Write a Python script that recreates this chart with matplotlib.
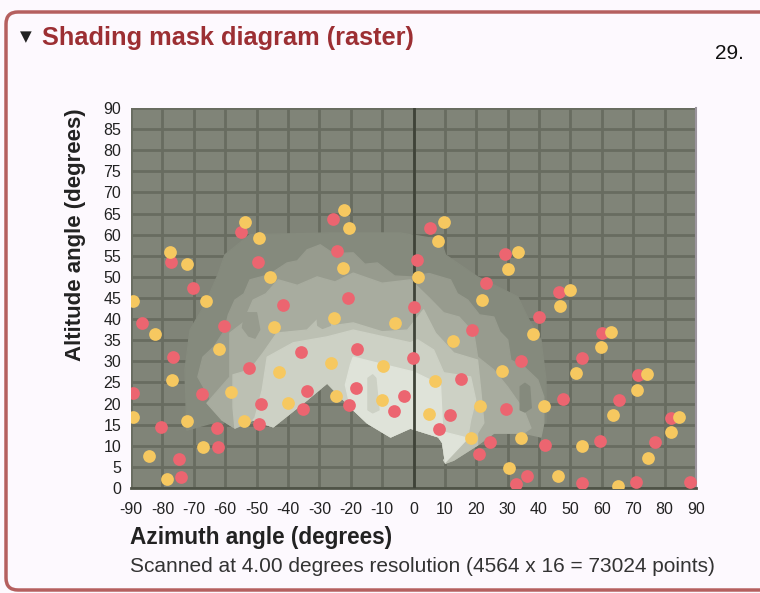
import matplotlib
matplotlib.use("Agg")
import matplotlib.pyplot as plt
from matplotlib.patches import FancyBboxPatch, Polygon
from matplotlib.transforms import IdentityTransform

plt.rcParams["font.family"] = ["Liberation Sans", "DejaVu Sans"]

W, H = 760, 593

# sun positions (azimuth, altitude)
red_az = [-89.5, -86.6, -80.5, -77.3, -76.7, -74.8, -74.1, -70.3, -67.4, -62.6, -62.3, -60.4, -55.0, -49.5, -52.4,
          -48.6, -49.2, -41.5, -35.8, -35.1, -33.9, -25.6, -24.3, -20.8, -17.9, -18.2, -20.4, -6.1, -2.9, -0.3,
          0.3, 1.0, 5.1, 8.0, 11.5, 15.0, 18.5, 20.8, 24.3, 23.0, 29.1, 29.4, 34.2, 36.1, 32.6,
          39.9, 41.9, 46.3, 47.6, 53.7, 53.7, 59.4, 60.1, 65.5, 70.9, 71.6, 77.0, 82.1, 88.2]
red_alt = [22.5, 39.1, 14.5, 53.6, 31.0, 6.9, 2.6, 47.4, 22.3, 14.2, 9.7, 38.4, 60.7, 53.6, 28.4,
           19.9, 15.2, 43.4, 32.2, 18.7, 23.0, 63.7, 56.2, 45.0, 32.9, 23.7, 19.7, 18.2, 21.8, 30.8,
           42.9, 54.0, 61.6, 14.0, 17.3, 25.8, 37.4, 8.1, 10.9, 48.6, 55.5, 18.7, 30.1, 2.8, 0.9,
           40.5, 10.2, 46.4, 21.1, 30.8, 1.2, 11.1, 36.7, 20.9, 1.4, 26.8, 10.9, 16.6, 1.4]

yellow_az = [-89.5, -82.4, -77.6, -72.2, -66.1, -62.0, -77.0, -89.5, -84.3, -78.6, -72.2, -67.1, -58.1, -54.0, -53.7,
             -49.2, -45.7, -44.4, -42.8, -39.9, -26.2, -25.2, -24.6, -22.4, -22.0, -20.4, -9.6, -9.9, -5.8, 1.3,
             4.8, 6.7, 7.7, 9.6, 12.5, 18.2, 21.1, 21.7, 28.1, 30.0, 30.4, 33.2, 34.2, 38.0, 41.5,
             46.0, 46.6, 49.8, 51.8, 53.7, 59.7, 62.9, 63.6, 65.2, 71.2, 74.4, 74.8, 82.1, 84.7]
yellow_alt = [44.3, 36.5, 55.9, 53.1, 44.3, 32.9, 25.6, 16.8, 7.6, 2.1, 15.9, 9.7, 22.7, 15.9, 63.0,
              59.2, 50.0, 38.2, 27.5, 20.1, 29.6, 40.3, 21.8, 52.1, 65.9, 61.6, 28.9, 20.9, 39.1, 50.0,
              17.5, 25.4, 58.5, 63.0, 34.8, 11.8, 19.4, 44.5, 27.7, 51.9, 4.7, 55.9, 11.8, 36.5, 19.4,
              2.8, 43.1, 46.9, 27.3, 10.0, 33.4, 37.0, 17.3, 0.5, 23.2, 27.0, 7.1, 13.3, 16.8]

# lower edge of the mask, right to left
lower = [(41.5, 15.4), (40.6, 12.1), (35.1, 13.0), (25.6, 13.0), (20.4, 10.2), (12.8, 6.6), (10.2, 5.9), (9.3, 10.7),
         (8.0, 12.1), (-1.0, 14.2), (-7.3, 12.1), (-14.7, 15.4), (-20.1, 19.2), (-27.5, 24.9), (-33.9, 20.9),
         (-44.7, 14.5), (-51.1, 16.1), (-56.9, 14.2), (-61.0, 16.1)]

# shading levels, dark to light
level0 = [(-72.2, 13.7), (-72.8, 28.0), (-71.2, 37.4), (-66.5, 43.4), (-62.3, 50.5), (-60.1, 55.2), (-52.1, 60.0),
          (-26.5, 60.4), (-4.2, 60.4), (8.6, 58.8), (10.2, 55.2), (20.4, 50.0), (33.2, 45.3), (36.4, 40.3),
          (40.6, 35.1), (42.2, 25.6), (42.2, 15.4)] + lower
level1 = [(-68.7, 26.3), (-67.1, 31.0), (-63.5, 33.5), (-60.1, 37.4), (-59.0, 41.0), (-56.9, 44.5), (-54.0, 46.0),
          (-52.1, 49.3), (-46.0, 50.5), (-40.3, 53.3), (-37.0, 53.8), (-33.9, 56.4), (-29.7, 57.6), (-25.5, 55.5),
          (-19.2, 55.7), (-15.5, 53.0), (-11.5, 53.3), (-6.0, 50.2), (-1.0, 50.0), (5.0, 50.8), (11.8, 49.3),
          (14.0, 46.0), (17.3, 44.5), (21.0, 41.0), (25.6, 40.5), (27.5, 37.0), (30.0, 35.1), (31.0, 30.3),
          (35.5, 28.5), (39.6, 25.6), (41.5, 21.6)] + lower
level2 = [(-65.8, 20.1), (-58.5, 26.3), (-58.5, 36.7), (-54.3, 39.1), (-51.1, 44.5), (-47.0, 46.0), (-43.1, 49.3),
          (-37.0, 48.0), (-30.7, 50.0), (-25.0, 48.8), (-19.2, 50.9), (-10.0, 48.5), (-1.0, 49.3), (5.0, 45.0),
          (9.6, 41.5), (14.5, 40.5), (19.2, 36.7), (20.4, 31.0), (25.5, 28.0), (30.0, 23.9), (35.1, 18.5),
          (37.4, 14.2)] + lower[2:]
level3 = [(-57.5, 19.2), (-57.5, 26.8), (-52.0, 28.0), (-47.9, 32.0), (-43.5, 36.7), (-33.9, 37.4), (-30.7, 39.8),
          (-25.0, 38.5), (-19.2, 39.1), (-10.0, 37.0), (-1.9, 37.4), (3.2, 42.2), (7.0, 36.7), (12.8, 32.0),
          (20.4, 30.3), (21.4, 23.2), (22.4, 15.4), (20.4, 13.0)] + lower[4:18]
level4 = [(-50.5, 16.6), (-48.2, 23.2), (-46.6, 31.0), (-38.3, 34.4), (-27.5, 35.8), (-19.2, 37.4), (-1.0, 34.4),
          (1.3, 35.1), (6.4, 32.7), (9.6, 27.3), (18.2, 26.3), (19.8, 20.9), (18.2, 16.1), (17.3, 12.1),
          (9.6, 6.6)] + lower[6:17]
level5 = [(-20.1, 29.1), (-19.2, 31.0), (-8.9, 29.1), (0.0, 27.5), (8.6, 24.4), (9.3, 13.3), (17.3, 11.8),
          (10.2, 6.2)] + lower[7:13] + [(-21.7, 24.4)]
levels = [level0, level1, level2, level3, level4, level5]
level_colors = ["#858a7d", "#979b8e", "#a8ac9f", "#bcc0b3", "#cdd1c5", "#dfe3d9"]

# darker patches inside the mask
holes = [[(-53.7, 41.5), (-50.0, 41.5), (-49.0, 37.5), (-50.5, 35.5), (-52.5, 36.0), (-54.5, 38.0)],
         [(-31.0, 42.5), (-29.0, 43.0), (-27.0, 42.0), (-26.5, 38.5), (-29.0, 37.8), (-30.5, 38.5)],
         [(-14.5, 26.0), (-13.0, 26.8), (-12.0, 26.0), (-11.0, 18.5), (-13.0, 17.8), (-14.5, 18.5)],
         [(34.0, 24.0), (35.5, 24.8), (37.0, 24.0), (37.5, 19.0), (35.5, 18.0), (34.0, 18.5)]]
hole_colors = ["#979b8e", "#a8ac9f", "#cdd1c5", "#858a7d"]

x_ticks = list(range(-90, 91, 10))
y_ticks = list(range(0, 91, 5))

fig = plt.figure(figsize=(W / 100, H / 100), dpi=100, facecolor="#fdf9fe")

# rounded panel frame, runs off the right of the shot
frame = FancyBboxPatch((6, 3), 800, 578, boxstyle="round,pad=0,rounding_size=12", transform=IdentityTransform(),
                       fc="#fdf9fe", ec="#b5605f", lw=2.5, zorder=-1)
fig.add_artist(frame)

ax = fig.add_axes([131 / W, 1 - 488 / H, 565 / W, 380 / H], facecolor="#808478")
ax.set_xlim(-90, 90)
ax.set_ylim(0, 90)

ax.set_axisbelow(True)
ax.set_xticks(x_ticks)
ax.set_yticks(y_ticks)
ax.grid(True, color="#686c60", lw=2)
ax.tick_params(axis="x", length=0, labelsize=11.5, pad=10, colors="#222222")
ax.tick_params(axis="y", length=0, labelsize=11.5, pad=7, colors="#222222")
ax.set_xticklabels([str(v) for v in x_ticks])

for pts, c in zip(levels, level_colors):
    ax.add_patch(Polygon(pts, closed=True, fc=c, ec=c, lw=1, joinstyle="round", zorder=2))
for pts, c in zip(holes, hole_colors):
    ax.add_patch(Polygon(pts, closed=True, fc=c, ec=c, lw=1, joinstyle="round", zorder=2.5))

ax.axvline(0, color="#3f4338", lw=2, zorder=3)

ax.scatter(red_az, red_alt, s=84, color="#ec6570", lw=0, zorder=4)
ax.scatter(yellow_az, yellow_alt, s=84, color="#f6c860", lw=0, zorder=5)

for side in ["top", "left"]:
    ax.spines[side].set_visible(False)
ax.spines["bottom"].set_color("#4f5347")
ax.spines["bottom"].set_linewidth(2)
ax.spines["right"].set_color("#9a949c")
ax.spines["right"].set_linewidth(1.5)

fig.text(26 / W, 1 - 37 / H, "▼", fontsize=11, color="#222222", ha="center", va="center", family="DejaVu Sans")
fig.text(42 / W, 1 - 45 / H, "Shading mask diagram (raster)", fontsize=18.3, fontweight="bold", color="#9c2f33")
fig.text(715 / W, 1 - 59 / H, "29.", fontsize=15, color="#111111")
fig.text(76 / W, 1 - 235 / H, "Altitude angle (degrees)", fontsize=16, fontweight="bold", rotation=90,
         ha="center", va="center", color="#222222")
fig.text(130 / W, 1 - 544 / H, "Azimuth angle (degrees)", fontsize=16.3, fontweight="bold", color="#222222")
fig.text(130 / W, 1 - 572 / H, "Scanned at 4.00 degrees resolution (4564 x 16 = 73024 points)", fontsize=15,
         color="#333333")

fig.savefig("out.png", dpi=100, facecolor=fig.get_facecolor())
